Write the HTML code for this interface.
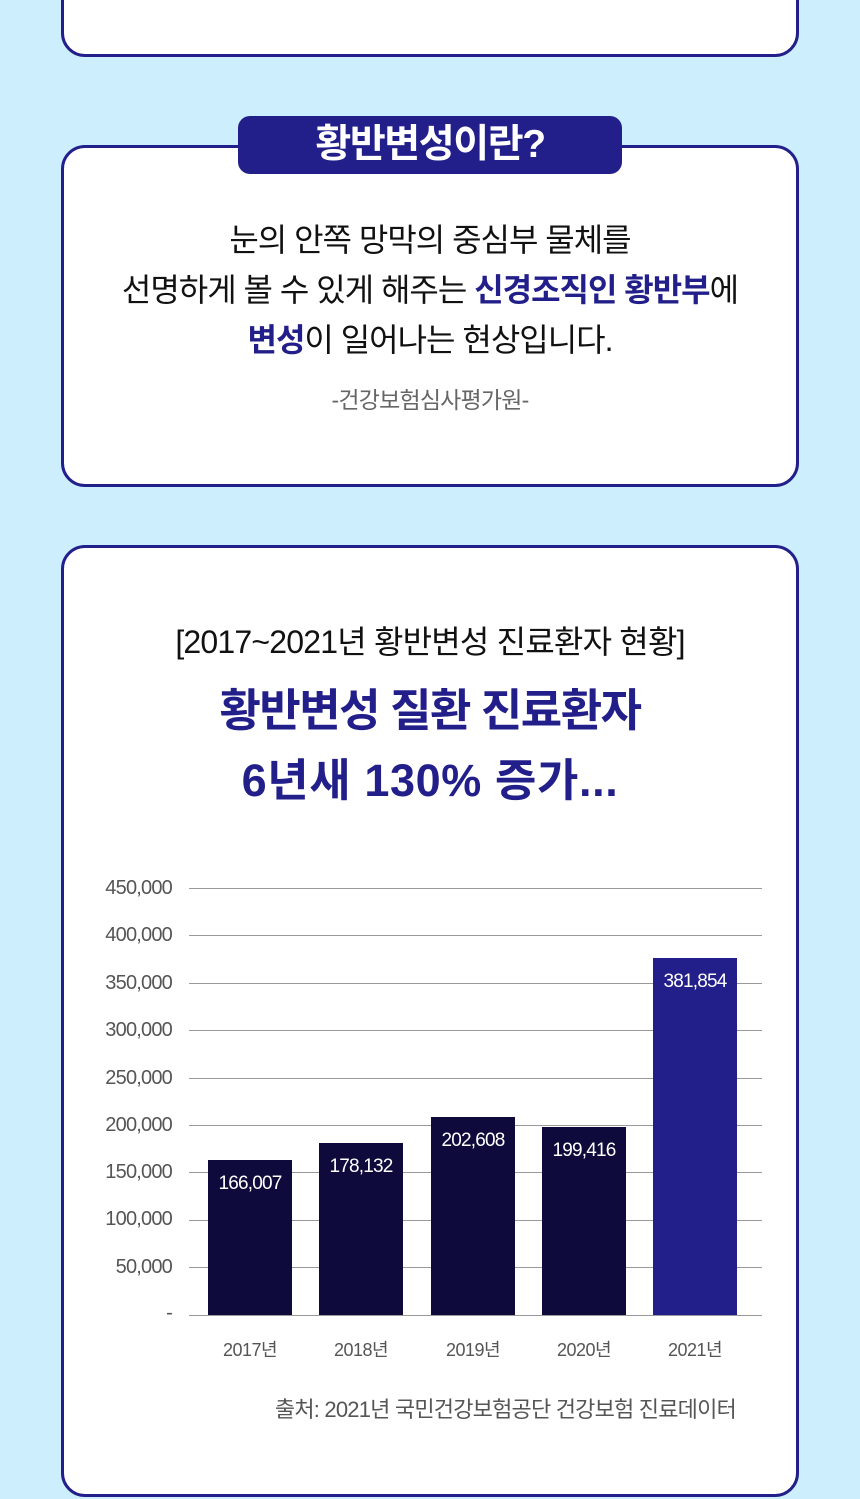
<!DOCTYPE html>
<html><head><meta charset="utf-8"><style>
*{margin:0;padding:0;box-sizing:border-box}
body{width:860px;height:1499px;background:#cdeefd;position:relative;overflow:hidden;font-family:"Liberation Sans","Noto Sans CJK KR",sans-serif}
.card{position:absolute;left:61px;width:738px;background:#fff;border:3px solid #231f8a;border-radius:24px}
.t{position:absolute;left:0;width:860px;text-align:center;white-space:nowrap}
.b{color:#231f8a;font-weight:bold}
.yl{position:absolute;right:688px;font-size:20px;color:#555;letter-spacing:-0.8px}
.gl{position:absolute;left:189px;width:573px;height:1px;background:#999}
.bar{position:absolute;width:84px;background:#0e0b3c;color:#fff;font-size:19px;text-align:center;letter-spacing:-0.8px}
.xl{position:absolute;width:84px;text-align:center;font-size:18px;color:#555;top:1336px;letter-spacing:-0.5px}
</style></head><body>
<div class="card" style="top:-40px;height:97px"></div>
<div class="card" style="top:145px;height:342px"></div>
<div style="position:absolute;left:238px;top:116px;width:384px;height:58px;background:#231f8a;border-radius:12px;color:#fff;font-size:39px;font-weight:bold;text-align:center;line-height:58px;letter-spacing:-1.4px">황반변성이란?</div>
<div class="t" style="top:215px;font-size:32px;line-height:50px;color:#111;letter-spacing:-1px">눈의 안쪽 망막의 중심부 물체를<br>선명하게 볼 수 있게 해주는 <span class="b">신경조직인 황반부</span>에<br><span class="b">변성</span>이 일어나는 현상입니다.</div>
<div class="t" style="top:381px;font-size:23px;color:#666;letter-spacing:-0.8px">-건강보험심사평가원-</div>
<div class="card" style="top:545px;height:952px"></div>
<div class="t" style="top:617px;font-size:32px;color:#111;letter-spacing:-0.8px">[2017~2021년 황반변성 진료환자 현황]</div>
<div class="t" style="top:676px;font-size:45px;line-height:70px;color:#231f8a;font-weight:bold;letter-spacing:-1.5px">황반변성 질환 진료환자<br><span style="letter-spacing:0.6px">6년새 130% 증가...</span></div>
<div class="gl" style="top:888px"></div><div class="yl" style="top:877px">450,000</div>
<div class="gl" style="top:935px"></div><div class="yl" style="top:924px">400,000</div>
<div class="gl" style="top:983px"></div><div class="yl" style="top:972px">350,000</div>
<div class="gl" style="top:1030px"></div><div class="yl" style="top:1019px">300,000</div>
<div class="gl" style="top:1078px"></div><div class="yl" style="top:1067px">250,000</div>
<div class="gl" style="top:1125px"></div><div class="yl" style="top:1114px">200,000</div>
<div class="gl" style="top:1172px"></div><div class="yl" style="top:1161px">150,000</div>
<div class="gl" style="top:1220px"></div><div class="yl" style="top:1208px">100,000</div>
<div class="gl" style="top:1267px"></div><div class="yl" style="top:1256px">50,000</div>
<div class="gl" style="top:1315px"></div><div class="yl" style="top:1302px">-</div>
<div class="bar" style="left:208px;top:1160px;height:155px;padding-top:13px">166,007</div>
<div class="bar" style="left:319px;top:1143px;height:172px;padding-top:13px">178,132</div>
<div class="bar" style="left:431px;top:1117px;height:198px;padding-top:13px">202,608</div>
<div class="bar" style="left:542px;top:1127px;height:188px;padding-top:13px">199,416</div>
<div class="bar" style="left:653px;top:958px;height:357px;padding-top:13px;background:#231f8a">381,854</div>
<div class="xl" style="left:208px">2017년</div>
<div class="xl" style="left:319px">2018년</div>
<div class="xl" style="left:431px">2019년</div>
<div class="xl" style="left:542px">2020년</div>
<div class="xl" style="left:653px">2021년</div>
<div style="position:absolute;right:124px;top:1392px;font-size:22px;color:#555;letter-spacing:-0.8px;white-space:nowrap">출처: 2021년 국민건강보험공단 건강보험 진료데이터</div>
</body></html>
